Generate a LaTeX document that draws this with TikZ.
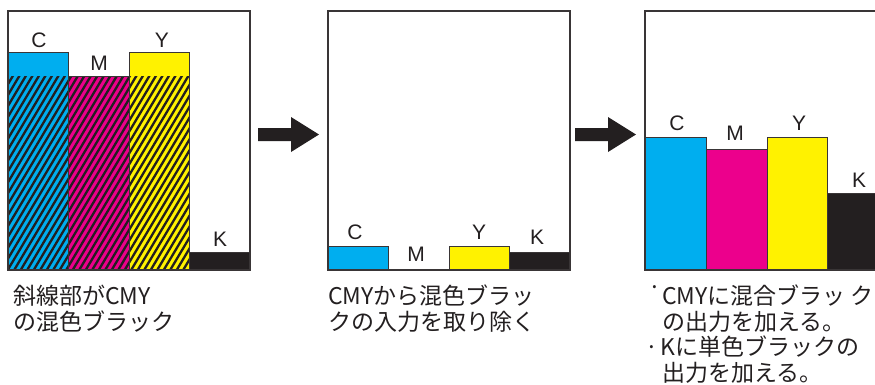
\documentclass[tikz,border=0pt]{standalone}
\usepackage{fontspec}
\setmainfont{Liberation Sans}
\newfontfamily\jpfont{Noto Sans CJK JP}
\definecolor{cyanink}{HTML}{00AEEF}
\definecolor{magentaink}{HTML}{EC008C}
\definecolor{yellowink}{HTML}{FFF200}
\definecolor{blackink}{HTML}{231F20}
\begin{document}
\begin{tikzpicture}[
            x=1pt, y=-1pt,
            frame/.style={draw=blackink!90, line width=1.2pt},
            bar/.style={draw=blackink!90, line width=1pt},
            hatch/.style={draw=blackink, line width=2.3pt},
            ink/.style={font=\fontsize{21}{21}\selectfont, inner sep=0pt, text=blackink},
            caption/.style={font=\jpfont\fontsize{23}{26}\selectfont, anchor=base west, inner sep=0pt, text=blackink},
            arrowbody/.style={fill=blackink}
        ]
        \clip (0,0) rectangle (875,384);
        % panel 1: CMY with mixed black
        \draw[bar, fill=cyanink] (8,52) rectangle (68,270);
        \draw[bar, fill=magentaink] (68,76) rectangle (129,270);
        \draw[bar, fill=yellowink] (129,52) rectangle (189,270);
        \draw[bar, fill=blackink] (189,252) rectangle (250,270);
        \begin{scope}
            \clip (8,76) rectangle (189,270);
            \foreach \s in {-130,-123.5,...,195}
                \draw[hatch] (\s,272) -- ++(118,-198);
        \end{scope}
        \draw[bar] (8,52) rectangle (68,270) (68,76) rectangle (129,270) (129,52) rectangle (189,270);
        \draw[frame] (8,11) rectangle (250,270);
        \node[ink] (c1) at (39,40) {C};
        \node[ink] (m1) at (99,63) {M};
        \node[ink] (y1) at (162,40) {Y};
        \node[ink] (k1) at (220,239) {K};
        % panel 2: mixed black removed
        \draw[bar, fill=cyanink] (328,246) rectangle (388,270);
        \draw[bar, fill=yellowink] (449,246) rectangle (509,270);
        \draw[bar, fill=blackink] (509,252) rectangle (570,270);
        \draw[frame] (328,11) rectangle (570,270);
        \node[ink] (c2) at (355,232) {C};
        \node[ink] (m2) at (416,254) {M};
        \node[ink] (y2) at (479,232) {Y};
        \node[ink] (k2) at (537,237) {K};
        % panel 3: output added
        \draw[bar, fill=cyanink] (645,137) rectangle (706,270);
        \draw[bar, fill=magentaink] (706,149) rectangle (767,270);
        \draw[bar, fill=yellowink] (767,137) rectangle (827,270);
        \draw[bar, fill=blackink] (827,193) rectangle (890,270);
        \draw[frame] (645,11) rectangle (890,270);
        \node[ink] (c3) at (677,123) {C};
        \node[ink] (m3) at (735,133) {M};
        \node[ink] (y3) at (799,123) {Y};
        \node[ink] (k3) at (859,180) {K};
        % arrows
        \foreach \ax in {258,575}
            \fill[arrowbody] (\ax,128) -- ++(33,0) -- ++(0,-11) -- ++(28,17.5) -- ++(-28,17.5) -- ++(0,-11) -- ++(-33,0) -- cycle;
        % captions
        \node[caption] (t1a) at (13,304) {斜線部がCMY};
        \node[caption] (t1b) at (13,330) {の混色ブラック};
        \node[caption] (t2a) at (328,304) {CMYから混色ブラッ};
        \node[caption] (t2b) at (328,330) {クの入力を取り除く};
        \node[caption] (dot1) at (648,295) {·};
        \node[caption] (t3a) at (662,304) {CMYに混合ブラッ ク};
        \node[caption] (t3b) at (662,330) {の出力を加える。};
        \node[caption] (dot2) at (645,355.5) {·};
        \node[caption] (t3c) at (660,355.5) {Kに単色ブラックの};
        \node[caption] (t3d) at (662,381) {出力を加える。};
    \end{tikzpicture}
\end{document}
